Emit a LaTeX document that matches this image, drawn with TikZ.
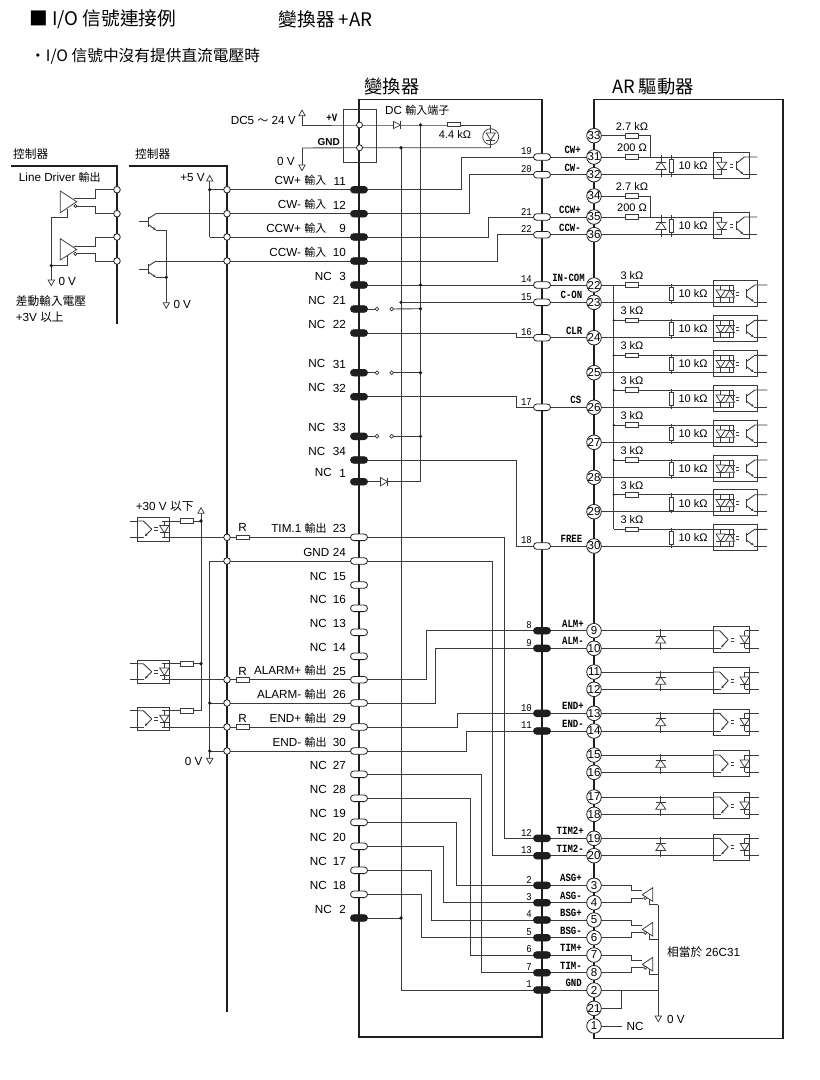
\documentclass[tikz,border=0pt]{standalone}
\usepackage{fontspec}
\usepackage{graphicx}
\setmainfont{Liberation Sans}
\setmonofont{Liberation Mono}
\newfontfamily\cjf{Noto Sans CJK TC}
\usetikzlibrary{arrows.meta}
\definecolor{wc}{HTML}{3A3A3A}
\definecolor{fc}{HTML}{1E1E1E}
\newcommand\cj[1]{{\cjf\fontsize{11}{12}\selectfont #1}}
\newcommand\cjb[1]{{\cjf\fontsize{11.7}{12}\selectfont #1}}
\newcommand\sigt[1]{\scalebox{.82}[1]{\fontsize{11}{12}\selectfont\ttfamily\bfseries #1}}
\newcommand\pnum[1]{\scalebox{.85}[1]{\fontsize{10.5}{12}\selectfont\ttfamily #1}}
\pgfdeclarelayer{back}
\pgfsetlayers{back,main}
\tikzset{
  wire/.style={line width=.9pt,draw=wc},
  frame/.style={line width=1.5pt,draw=fc},
  frameb/.style={line width=1.2pt,draw=fc},
  sym/.style={line width=.75pt,draw=wc},
  txt/.style={inner sep=0pt,font=\fontsize{11.7}{12}\selectfont},
  val/.style={inner sep=0pt,font=\fontsize{11}{12}\selectfont},
  pillw/.style={draw=fc,line width=.8pt,fill=white,rectangle,rounded corners=3.3pt,minimum width=17pt,minimum height=6.6pt,inner sep=0pt},
  pilld/.style={pillw,fill=fc},
  pinc/.style={circle,draw=fc,line width=.8pt,fill=white,minimum size=14.6pt,inner sep=-2pt,font=\fontsize{11.5}{12}\selectfont},
  hole/.style={circle,draw=fc,line width=.8pt,fill=white,minimum size=6.6pt,inner sep=0pt},
  swc/.style={circle,draw=wc,line width=.7pt,fill=white,minimum size=3.8pt,inner sep=0pt},
  dotn/.style={circle,fill=fc,minimum size=3.6pt,inner sep=0pt},
  res/.style={rectangle,draw=wc,line width=.75pt,fill=white,minimum width=13pt,minimum height=4.4pt,inner sep=0pt},
  resv/.style={rectangle,draw=wc,line width=.75pt,fill=white,minimum width=4.4pt,minimum height=13pt,inner sep=0pt},
  tri/.style={line width=.75pt,draw=wc,fill=white},
}
% route: pin, vertical x, pin
\newcommand\route[3]{\coordinate (rv) at (#2,0); \draw[wire] (#1.center) -- (#1.center -| rv) -- (#3.center -| rv) -- (#3.center);}
\newcommand\dio[4]{\begin{scope}[shift={(#1,#2)},rotate=#3]\draw[tri] (-3.6,-#4) -- (3.6,0) -- (-3.6,#4) -- cycle; \draw[sym] (3.6,-#4) -- (3.6,#4);\end{scope}}
\newcommand\arrdown[2]{\draw[tri] (#1-3.2,#2) -- (#1+3.2,#2) -- (#1,#2+5.6) -- cycle;}
\newcommand\arrup[2]{\draw[tri] (#1-3.2,#2) -- (#1+3.2,#2) -- (#1,#2-5.6) -- cycle;}
\newcommand\eqs[3]{\draw[sym] (#1,#3-1.4) -- (#2,#3-1.4) (#1,#3+1.4) -- (#2,#3+1.4);}
% output stage optocoupler: x0 x1 y1 y2 pad
\newcommand\optoOut[5]{%
  \draw[sym] (#1,#3-#5) rectangle (#2,#4+#5);
  \pgfmathsetmacro\ym{(#3+#4)/2}\pgfmathsetmacro\xd{#2-5}
  \draw[wire] (#1,#3) -- (#1+6,#3) -- (#1+14.5,\ym);
  \draw[wire,-{Stealth[length=3pt,width=2.6pt]}] (#1+14.5,\ym) -- (#1+7.5,#4-1);
  \draw[wire] (#1+7,#4) -- (#1,#4);
  \eqs{#1+17}{#1+20.5}{\ym}
  \draw[wire] (\xd,#3) -- (\xd,#4);
  \dio{\xd}{\ym}{-90}{4.6}
}
% single-diode input optocoupler
\newcommand\optoA[4]{%
  \pgfmathsetmacro\ym{(#3+#4)/2}
  \draw[sym] (#1,#3-4.3) rectangle (#2,#4+3.8);
  \draw[wire] (#1,#3) -- (#1+8.5,#3) -- (#1+8.5,#4) -- (#1,#4);
  \dio{#1+8.5}{\ym}{-90}{5}
  \eqs{#1+17}{#1+20}{\ym}
  \draw[sym] (#1+23,\ym-4.6) -- (#1+23,\ym+4.6);
  \draw[wire] (#1+23,\ym-2.4) -- (#1+31,#3) -- (#2+8,#3);
  \draw[wire,-{Stealth[length=3pt,width=2.6pt]}] (#1+23,\ym+2.4) -- (#1+30,#4-.6);
  \draw[wire] (#1+30,#4) -- (#2+8,#4);
}
% double-diode input optocoupler
\newcommand\optoB[4]{%
  \pgfmathsetmacro\ym{(#3+#4)/2}
  \draw[sym] (#1,#3-5) rectangle (#2,#4+4);
  \draw[wire] (#1,#3) -- (#1+20,#3) -- (#1+20,#4) -- (#1,#4);
  \draw[wire] (#1+7.4,#3) -- (#1+7.4,#4) (#1+16.6,#3) -- (#1+16.6,#4);
  \dio{#1+7.4}{\ym}{-90}{4.6}
  \dio{#1+16.6}{\ym}{90}{4.6}
  \eqs{#1+23}{#1+26}{\ym}
  \draw[sym] (#1+33,\ym-4.6) -- (#1+33,\ym+4.6);
  \draw[wire] (#1+33,\ym-2.4) -- (#1+41.5,#3) -- (#2+10,#3);
  \draw[wire,-{Stealth[length=3pt,width=2.6pt]}] (#1+33,\ym+2.4) -- (#1+40.5,#4-.6);
  \draw[wire] (#1+40.5,#4) -- (#2+10,#4);
}
% line driver of the driver unit
\newcommand\sgen[2]{%
  \draw[wire] (631.7,#1) -- (631.7,#1+5.4) -- (642,#1+5.4);
  \draw[wire] (631.7,#2) -- (631.7,#1+12.7) -- (643,#1+12.7);
  \draw[wire] (649.3,#1+12) -- (649.3,#1+19.4) -- (658.3,#1+19.4);
  \draw[tri] (652.7,#1+2.4) -- (652.7,#1+16) -- (642.3,#1+9.4) -- cycle;
  \draw[tri] (645.2,#1+12.7) circle (1.6);
}
% line driver in controller
\newcommand\ldrv[3]{% top y, tip y, bottom y
  \draw[tri] (60.3,#1) -- (76.7,#2) -- (60.3,#3) -- cycle;
  \draw[tri] (75.4,#2+4.3) circle (1.6);
}
\begin{document}
\begin{tikzpicture}[x=1pt,y=-1pt]
\useasboundingbox (0,0) rectangle (820,1080);

% ---------- titles
\node[inner sep=0pt,anchor=west,font=\cjf\fontsize{18.7}{20}\selectfont] (tA) at (29,19.5) {■ I/O 信號連接例};
\node[inner sep=0pt,anchor=west,font=\cjf\fontsize{18.7}{20}\selectfont] (tB) at (278.5,19.5) {變換器 +AR};
\node[inner sep=0pt,anchor=west,font=\cjf\fontsize{15.7}{18}\selectfont] (tC) at (30,56.5) {・I/O 信號中沒有提供直流電壓時};
\node[inner sep=0pt,font=\cjf\fontsize{18.3}{20}\selectfont] (tD) at (392,86.5) {變換器};
\node[inner sep=0pt,font=\cjf\fontsize{18.3}{20}\selectfont] (tE) at (653,86.5) {AR 驅動器};
\node[txt,anchor=west] (tF) at (13,154) {\cjb{控制器}};
\node[txt,anchor=west] (tG) at (135,154) {\cjb{控制器}};
\node[txt,anchor=west] (tH) at (18.7,177.3) {Line Driver \cj{輸出}};
\node[txt,anchor=west] (tI) at (15.7,300.7) {\cjb{差動輸入電壓}};
\node[txt,anchor=west] (tJ) at (15.7,316.7) {+3V \cjb{以上}};
\node[txt,anchor=west] (tK) at (58.3,281) {0 V};
\node[txt,anchor=west] (tL) at (173.3,304.3) {0 V};
\node[txt,anchor=east] (tM) at (205,177.3) {+5 V};
\node[txt,anchor=west] (tN) at (135.7,506.7) {+30 V \cjb{以下}};
\node[txt,anchor=east] (tO) at (202.7,761.7) {0 V};
\node[txt,anchor=east] (tP) at (296,120.7) {DC5 \cj{～} 24 V};
\node[txt,anchor=east] (tQ) at (295,161) {0 V};
\node[inner sep=0pt,anchor=east] (tR) at (337.5,118.3) {\sigt{+V}};
\node[inner sep=0pt,anchor=east,font=\fontsize{10}{12}\selectfont\bfseries] (tS) at (340,142.3) {GND};
\node[txt,anchor=west] (tT) at (385,110) {DC \cj{輸入端子}};
\node[val] (tU) at (455,135) {4.4 kΩ};
\node[txt,anchor=west] (tV) at (667,952) {\cjb{相當於} 26C31};
\node[txt,anchor=west] (tW) at (667,1019) {0 V};
\node[txt,anchor=west] (tX) at (626.5,1026) {NC};
\foreach \y/\k in {527.7/a,671/b,718/c}
  \node[txt] (rl\k) at (242.7,\y) {R};

% ---------- left pins of the converter
\foreach \n/\y/\t/\xr in {
  11/189.7/{CW+ \cj{輸入}}/326.5, 12/213.7/{CW- \cj{輸入}}/326.5, 9/237/{CCW+ \cj{輸入}}/326.5, 10/261/{CCW- \cj{輸入}}/326.5,
  3/285/NC/332, 21/309/NC/325.5, 22/333/NC/325.5, 31/372.7/NC/325.5, 32/396.7/NC/325.5, 33/436.3/NC/325.5, 34/460/NC/325.5, 1/481.7/NC/332, 2/918/NC/332}{
  \node[pilld] (L\n) at (359,\y) {};
  \node[txt,anchor=east] (LT\n) at (\xr,\y-9) {\t};
  \node[txt,anchor=east] (LN\n) at (346,\y-8.5) {\n};
}
\foreach \n/\y/\t/\xr in {
  23/537.3/{TIM.1 \cj{輸出}}/326.7, 24/561/GND/329.5, 15/585/NC/327, 16/608.3/NC/327, 13/632.3/NC/327, 14/656.3/NC/327,
  25/679.7/{ALARM+ \cj{輸出}}/326.7, 26/703/{ALARM- \cj{輸出}}/326.7, 29/727/{END+ \cj{輸出}}/326.7, 30/751/{END- \cj{輸出}}/326.7,
  27/774.3/NC/327, 28/798.3/NC/327, 19/822.3/NC/327, 20/846.3/NC/327, 17/870.3/NC/327, 18/894.3/NC/327}{
  \node[pillw] (L\n) at (359,\y) {};
  \node[txt,anchor=east] (LT\n) at (\xr,\y-9) {\t};
  \node[txt,anchor=east] (LN\n) at (346,\y-8.5) {\n};
}
% ---------- driver side pins
\foreach \n/\y in {33/135.7,31/157,32/174.7,34/196,35/217,36/234.7,22/285,23/302.3,24/337.7,25/372.7,26/407.3,27/442.3,28/477.3,29/511.7,30/546,9/630.7,10/648.3,11/672,12/689.3,13/713.3,14/731,15/755,16/772.3,17/797,18/814.3,19/838.3,20/855.7,3/885.3,4/902.7,5/920,6/937.7,7/955,8/972.7,2/990,21/1008.3,1/1026}
  \node[pinc] (P\n) at (594,\y) {\n};
% ---------- connector in the middle
\foreach \n/\y/\t/\xr in {19/157/CW+/581,20/174.7/CW-/581,21/217/CCW+/581,22/234.7/CCW-/581,14/285/IN-COM/585,15/302.3/C-ON/582.5,16/337.7/CLR/582.5,17/407.3/CS/581.5,18/546/FREE/582.5}{
  \node[pillw] (C\n) at (542,\y) {};
  \node[inner sep=0pt,anchor=east] (CN\n) at (532,\y-5.5) {\pnum{\n}};
  \node[inner sep=0pt,anchor=east] (CT\n) at (\xr,\y-7) {\sigt{\t}};
}
\foreach \n/\y/\t/\xr in {8/630.7/ALM+/584,9/648.3/ALM-/584,10/713.3/END+/584,11/731/END-/584,12/838.3/TIM2+/584,13/855.7/TIM2-/584,2/885.3/ASG+/582,3/902.7/ASG-/582,4/920/BSG+/582,5/937.7/BSG-/582,6/955/TIM+/582,7/972.7/TIM-/582,1/990/GND/582}{
  \node[pilld] (C\n) at (542,\y) {};
  \node[inner sep=0pt,anchor=east] (CN\n) at (532,\y-5.5) {\pnum{\n}};
  \node[inner sep=0pt,anchor=east] (CT\n) at (\xr,\y-7) {\sigt{\t}};
}
% ---------- holes on the controller frames
\foreach \k/\y in {a/189.7,b/213.7,c/237,d/261}{
  \node[hole] (H\k) at (117,\y) {};
  \node[hole] (K\k) at (227,\y) {};
}
\foreach \k/\y in {e/537.3,f/561,g/679.7,h/703,i/727,j/751}
  \node[hole] (K\k) at (227,\y) {};
% ---------- DC terminal
\node[hole,minimum size=6pt] (DCp) at (359.5,125) {};
\node[hole,minimum size=6pt] (DCg) at (359.5,147.7) {};
% ---------- junctions
\foreach \k/\x/\y in {a/420.5/125,b/420.5/285,c/420.5/308.7,d/420.5/372.7,e/420.5/436.3,f/401/147.7,g/401/302.3,h/401/918,
  i/209.7/189.7,j/209.7/703,k/209.7/751,l/201/521,m/201/663.7,n/51.3/265.7,o/166.3/277.3}
  \node[dotn] (J\k) at (\x,\y) {};
% ---------- free ends
\foreach \k/\x/\y in {vp/302/125,vg/302/148,v5/209.7/181,vt/201/513.3,vz/209.7/758.3,vl/51.3/280,vm/166.3/302.7,vr/658.3/1016,
  led/490.7/125,gnr/490.7/147.7,cb/420.5/481.7,gb/401/990,tg/209.7/561,t9/209.7/237,rt/658.3/990,bus/613.7/285,busb/613.7/529.3,
  jb/621.7/990,ja/621.7/1008.3,nc/621.7/1026,tb/201/710.7}
  \coordinate (Q\k) at (\x,\y);
% ---------- switches
\foreach \n/\k/\y in {21/a/309,31/b/372.7,33/c/436.3}{
  \node[swc] (Sa\k) at (377,\y) {};
  \node[swc] (Sb\k) at (391.7,\y) {};
}
% ---------- resistors
\foreach \k/\x/\y in {a/454/124.5,b/631.7/135.7,c/631.7/157,d/631.7/196,e/631.7/217,f/186.8/521,g/186.8/663.7,h/186.8/710.7,i/242.7/537.3,j/242.7/679.7,k/242.7/727}
  \node[res] (R\k) at (\x,\y) {};

\begin{pgfonlayer}{back}
  \fill[white] (0,0) rectangle (820,1080);
  % frames
  \draw[frameb] (359,99.5) rectangle (542,1037);
  \draw[frameb] (783,99.5) -- (594,99.5) -- (594,1038.5) -- (783,1038.5) -- cycle;
  \draw[frame] (11,166) -- (117,166) -- (117,324);
  \draw[frame] (129.3,166) -- (227,166) -- (227,1012);
  \draw[wire] (343.3,109.3) rectangle (376.7,162);
  % power
  \draw[wire] (Qvp) -- (DCp.center) -- (Ja.center) -- (Qled) -- (Qgnr);
  \draw[wire] (Qvg) -- (DCg.center) -- (Qgnr);
  \draw[wire] (Qvp) -- (302,116);
  \draw[wire] (Qvg) -- (302,165);
  \draw[wire] (Ja.center) -- (Qcb) -- (L1.center);
  \draw[wire] (Jf.center) -- (Qgb) -- (P2.center);
  \draw[wire] (L2.center) -- (Jh.center);
  \draw[wire] (L3.center) -- (P22.center);
  \draw[wire] (Jg.center) -- (P23.center);
  \foreach \n/\k/\d in {21/a/c,31/b/d,33/c/e}{
    \draw[wire] (L\n.center) -- (Sa\k.center);
    \draw[wire] (Sb\k.center) -- (J\d.center);
  }
  % routes
  \route{L11}{461}{P31} \route{L12}{469}{P32} \route{L9}{488}{P35} \route{L10}{497}{P36}
  \route{L22}{516.7}{P24} \route{L32}{516.7}{P26} \route{L34}{516.7}{P30}
  \route{L23}{504}{P19} \route{L24}{492.7}{P20}
  \route{L25}{426}{P9} \route{L26}{435.7}{P10} \route{L29}{457.3}{P13} \route{L30}{466.7}{P14}
  \route{L27}{481.3}{P8} \route{L28}{470}{P7} \route{L19}{456.3}{P3} \route{L20}{443.3}{P4} \route{L17}{431.3}{P5} \route{L18}{421}{P6}
  % left controller wires
  \draw[wire] (Ji.center) -- (L11.center);
  \draw[wire] (156,213.7) -- (L12.center);
  \draw[wire] (Qt9) -- (L9.center);
  \draw[wire] (156,261) -- (L10.center);
  \draw[wire] (Qv5) -- (Qt9);
  \draw[wire] (Kf.center) -- (L24.center);
  \draw[wire] (Qtg) -- (Kf.center);
  \draw[wire] (Jj.center) -- (L26.center);
  \draw[wire] (Jk.center) -- (L30.center);
  \draw[wire] (Qtg) -- (Qvz);
  \draw[wire] (Qvt) -- (Qtb) -- (Rh.center);
  \draw[wire] (162.3,521) -- (Jl.center);
  \draw[wire] (162.3,663.7) -- (Jm.center);
  \draw[wire] (162.3,537.3) -- (L23.center);
  \draw[wire] (162.3,679.7) -- (L25.center);
  \draw[wire] (162.3,727) -- (L29.center);
  \draw[wire] (130,521) -- (137.3,521) (130,537.3) -- (137.3,537.3);
  \draw[wire] (130,663.7) -- (137.3,663.7) (130,679.7) -- (137.3,679.7);
  \draw[wire] (130,710.7) -- (137.3,710.7) (130,727) -- (137.3,727);
  \draw[wire] (162.3,710.7) -- (Rh.center);
  % driver top wiring
  \draw[wire] (P33.center) -- (650.7,135.7) -- (650.7,157);
  \draw[wire] (P34.center) -- (650.7,196) -- (650.7,217);
  \draw[wire] (P31.center) -- (713.3,157);
  \draw[wire] (P32.center) -- (713.3,174.7);
  \draw[wire] (P35.center) -- (713.3,217);
  \draw[wire] (P36.center) -- (713.3,234.7);
  \draw[wire] (661,155) -- (661,176.5) (671.3,155) -- (671.3,176.5);
  \draw[wire] (661,215) -- (661,236.5) (671.3,215) -- (671.3,236.5);
  % input rows
  \draw[wire] (Qbus) -- (Qbusb);
  \draw[wire] (P22.center) -- (713.3,285);
  \foreach \a/\b/\p in {285/302.3/23,320.3/337.7/24,355.3/372.7/25,390/407.3/26,425/442.3/27,460/477.3/28,494.7/511.7/29,529.3/546/30}{
    \draw[wire] (613.7,\a) -- (713.3,\a);
    \draw[wire] (P\p.center) -- (713.3,\b);
    \draw[wire] (671.3,\a-1.5) -- (671.3,\b+1.5);
  }
  % output rows
  \foreach \a/\b/\p/\q in {630.7/648.3/9/10,672/689.3/11/12,713.3/731/13/14,755/772.3/15/16,797/814.3/17/18,838.3/855.7/19/20}{
    \draw[wire] (P\p.center) -- (713.7,\a);
    \draw[wire] (P\q.center) -- (713.7,\b);
    \draw[wire] (660.7,\a-1.5) -- (660.7,\b+1.5);
    \draw[wire] (744.7,\a) -- (758.5,\a) (744.7,\b) -- (758.5,\b);
  }
  % signal outputs
  \draw[wire] (P3.center) -- (631.7,885.3);
  \draw[wire] (P4.center) -- (631.7,902.7);
  \draw[wire] (P5.center) -- (631.7,920);
  \draw[wire] (P6.center) -- (631.7,937.7);
  \draw[wire] (P7.center) -- (631.7,955);
  \draw[wire] (P8.center) -- (631.7,972.7);
  \draw[wire] (658.3,904.7) -- (Qvr);
  \draw[wire] (P2.center) -- (Qrt);
  \draw[wire] (P21.center) -- (Qja) -- (Qjb);
  \draw[wire] (P1.center) -- (Qnc);
\end{pgfonlayer}

% ---------- symbols
\dio{397}{125}{0}{3.6}
\dio{384}{481.7}{0}{4.2}
\draw[tri] (490.7,136.7) circle (8);
\draw[wire] (490.7,129) -- (490.7,144.4);
\dio{490.7}{136.5}{-90}{4.6}
\foreach \y in {157,217}
  \dio{661}{\y+8.8}{90}{5}
\foreach \a in {157,217}
  \node[resv] (Vt\a) at (671.3,\a+8.8) {};
\foreach \a/\b in {157/174.7,217/234.7}
  \node[val,anchor=west] (Vl\a) at (678.3,\a+8.8) {10 kΩ};
\node[val] (va) at (632,126.7) {2.7 kΩ};
\node[val] (vb) at (632,147.7) {200 Ω};
\node[val] (vc) at (632,187) {2.7 kΩ};
\node[val] (vd) at (632,207.7) {200 Ω};
\optoA{713.3}{749.3}{157}{174.7}
\optoA{713.3}{749.3}{217}{234.7}
\foreach \a/\b in {285/302.3,320.3/337.7,355.3/372.7,390/407.3,425/442.3,460/477.3,494.7/511.7,529.3/546}{
  \node[res] (Rt\a) at (631.7,\a) {};
  \node[val] (Rl\a) at (632,\a-9.6) {3 kΩ};
  \node[resv] (Rv\a) at (671.3,\a+8.7) {};
  \node[val,anchor=west] (Rk\a) at (678.3,\a+8.7) {10 kΩ};
  \optoB{713.3}{757.3}{\a}{\b}
}
\foreach \k in {320.3,355.3,390,425,460,494.7}
  \node[dotn,minimum size=2.4pt] (Bd\k) at (613.7,\k) {};
\foreach \a/\b in {630.7/648.3,672/689.3,713.3/731,755/772.3,797/814.3,838.3/855.7}{
  \pgfmathsetmacro\md{(\a+\b)/2}
  \dio{660.7}{\md}{90}{5}
  \optoOut{713.7}{749.7}{\a}{\b}{4.4}
}
\optoOut{137.3}{169.3}{521}{537.3}{3.7}
\optoOut{137.3}{169.3}{663.7}{679.7}{3.7}
\optoOut{137.3}{169.3}{710.7}{727}{3.7}
% signal line drivers
\sgen{885.3}{902.7}
\sgen{920}{937.7}
\sgen{955}{972.7}
% arrows
\arrup{302}{115.7}
\arrdown{302}{165}
\arrup{209.7}{181}
\arrup{201}{513.3}
\arrdown{209.7}{758.3}
\arrdown{51.3}{280}
\arrdown{166.3}{302.7}
\arrdown{658.3}{1016}
% controller line drivers
\begin{pgfonlayer}{back}
  \draw[wire] (74,198) -- (95.7,198) -- (95.7,189.7) -- (Ha.center);
  \draw[wire] (77,206) -- (95.7,206) -- (95.7,213.7) -- (Hb.center);
  \draw[wire] (74,246.3) -- (95.7,246.3) -- (95.7,237) -- (Hc.center);
  \draw[wire] (77,253.8) -- (95.7,253.8) -- (95.7,261) -- (Hd.center);
  \draw[wire] (67.7,209) -- (67.7,217) -- (51.3,217) -- (Qvl);
  \draw[wire] (67.7,255) -- (67.7,265.7) -- (Jn.center);
  % transistors
  \draw[wire] (139,221.7) -- (148.3,221.7);
  \draw[wire] (139,269.3) -- (148.3,269.3);
  \draw[wire] (156,213.7) -- (148.3,218.5);
  \draw[wire] (156,261) -- (148.3,266);
  \draw[wire] (156,230) -- (166.3,230) -- (Qvm);
  \draw[wire] (156,277.3) -- (Jo.center);
\end{pgfonlayer}
\ldrv{191}{201.7}{212.7}
\ldrv{238.7}{249.5}{260}
\draw[line width=1pt,draw=wc] (148.3,216.7) -- (148.3,226.7);
\draw[line width=1pt,draw=wc] (148.3,264) -- (148.3,274);
\draw[wire,-{Stealth[length=3pt,width=2.6pt]}] (148.3,224.5) -- (156,230);
\draw[wire,-{Stealth[length=3pt,width=2.6pt]}] (148.3,272) -- (156,277.3);
\end{tikzpicture}
\end{document}
